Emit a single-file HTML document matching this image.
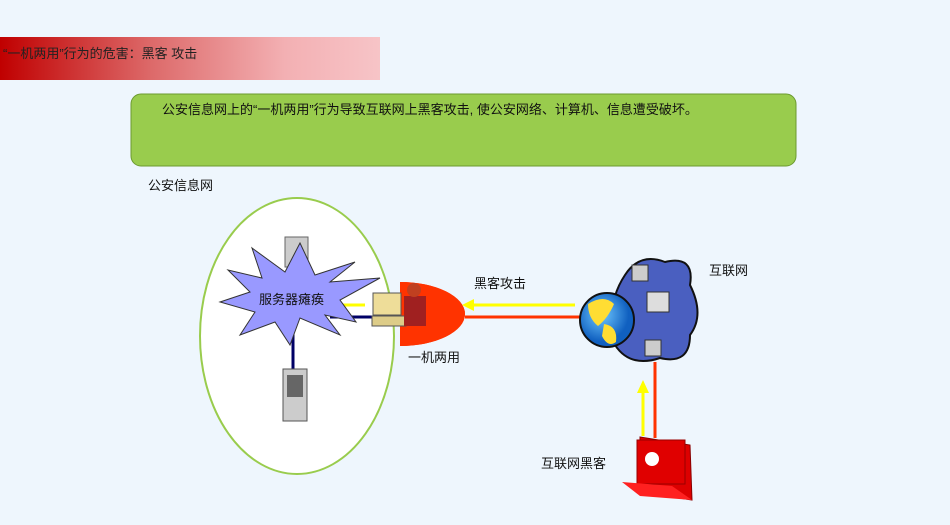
<!DOCTYPE html>
<html><head><meta charset="utf-8"><style>
body{margin:0;background:#eef6fd;}
svg{display:block;font-family:"Liberation Sans","Noto Sans CJK SC",sans-serif;}
</style></head><body>
<svg width="950" height="525" viewBox="0 0 950 525">
<defs>
<linearGradient id="tg" x1="0" x2="1"><stop offset="0" stop-color="#c00000"/><stop offset="0.4" stop-color="#dd6a6a"/><stop offset="0.75" stop-color="#f3b0b3"/><stop offset="1" stop-color="#f7c4c7"/></linearGradient>
<radialGradient id="gl" cx="0.4" cy="0.4"><stop offset="0" stop-color="#6fc8ff"/><stop offset="1" stop-color="#1060c0"/></radialGradient>
</defs>
<rect width="950" height="525" fill="#eef6fd"/>
<rect x="0" y="37" width="380" height="43" fill="url(#tg)"/>
<text x="3" y="58" font-size="13" fill="#222">“一机两用”行为的危害：黑客 攻击</text>
<rect x="131" y="94" width="665" height="72" rx="10" fill="#99cc4d" stroke="#6c9a30"/>
<text x="162" y="114" font-size="13" fill="#111">公安信息网上的“一机两用”行为导致互联网上黑客攻击, 使公安网络、计算机、信息遭受破坏。</text>
<text x="148" y="190" font-size="13" fill="#111">公安信息网</text>
<path d="M400 282 A65 32 0 0 1 400 346 Z" fill="#ff3300"/>
<ellipse cx="297" cy="336" rx="97" ry="138" fill="#fff" stroke="#99cc4d" stroke-width="2"/>
<path d="M400 282 A65 32 0 0 1 400 346 A97 138 0 0 0 400 282 Z" fill="#ff3300"/>
<rect x="285" y="237" width="23" height="30" fill="#ccc" stroke="#666"/>
<line x1="293" y1="330" x2="293" y2="370" stroke="#000066" stroke-width="3"/>
<line x1="330" y1="317" x2="372" y2="317" stroke="#000066" stroke-width="3"/>
<line x1="340" y1="305" x2="365" y2="305" stroke="#ffff00" stroke-width="3"/>
<polygon points="300,243 315,275 355,262 330,282 380,278 340,300 356,322 325,315 340,335 300,318 290,345 275,322 240,335 255,312 220,302 250,292 228,270 262,278 252,248 285,272" fill="#9999ff" stroke="#333"/>
<text x="259" y="304" font-size="13" fill="#111">服务器瘫痪</text>
<rect x="283" y="369" width="24" height="52" fill="#ccc" stroke="#555"/>
<rect x="287" y="375" width="16" height="22" fill="#666"/>
<rect x="373" y="293" width="28" height="22" fill="#eedd99" stroke="#555"/>
<rect x="372" y="316" width="34" height="10" fill="#ddcc88" stroke="#555"/>
<rect x="404" y="296" width="22" height="30" fill="#a02020"/>
<circle cx="414" cy="290" r="7" fill="#c04020"/>
<text x="408" y="362" font-size="13" fill="#111">一机两用</text>
<line x1="465" y1="317" x2="582" y2="317" stroke="#ff3300" stroke-width="3"/>
<line x1="472" y1="305" x2="575" y2="305" stroke="#ffff00" stroke-width="3"/>
<polygon points="462,305 474,299 474,311" fill="#ffff00"/>
<text x="474" y="288" font-size="13" fill="#111">黑客攻击</text>
<path d="M625 275 Q640 252 665 262 Q695 255 690 285 Q705 315 690 335 Q690 365 660 358 Q630 368 615 345 Q605 305 625 275 Z" fill="#4a5fc0" stroke="#111" stroke-width="2"/>
<circle cx="607" cy="320" r="27" fill="url(#gl)" stroke="#111" stroke-width="2"/>
<path d="M588 304 Q604 294 614 304 Q608 318 598 326 Q588 318 588 304 Z M604 324 Q618 326 616 342 Q608 348 602 336 Z" fill="#ffdd33"/>
<rect x="632" y="265" width="16" height="16" fill="#ccc" stroke="#333"/>
<rect x="647" y="292" width="22" height="20" fill="#ddd" stroke="#333"/>
<rect x="645" y="340" width="16" height="16" fill="#ccc" stroke="#333"/>
<text x="709" y="275" font-size="13" fill="#111">互联网</text>
<line x1="655" y1="362" x2="655" y2="438" stroke="#ff3300" stroke-width="3"/>
<line x1="643" y1="392" x2="643" y2="436" stroke="#ffff00" stroke-width="3"/>
<polygon points="643,380 637,393 649,393" fill="#ffff00"/>
<text x="541" y="468" font-size="13" fill="#111">互联网黑客</text>
<polygon points="640,437 690,445 692,500 640,492" fill="#dd0000" stroke="#800" />
<rect x="637" y="440" width="48" height="44" fill="#e00000" stroke="#900"/>
<polygon points="622,482 672,486 692,500 640,496" fill="#ff2020"/>
<circle cx="652" cy="459" r="7" fill="#fff"/>
</svg>
</body></html>
